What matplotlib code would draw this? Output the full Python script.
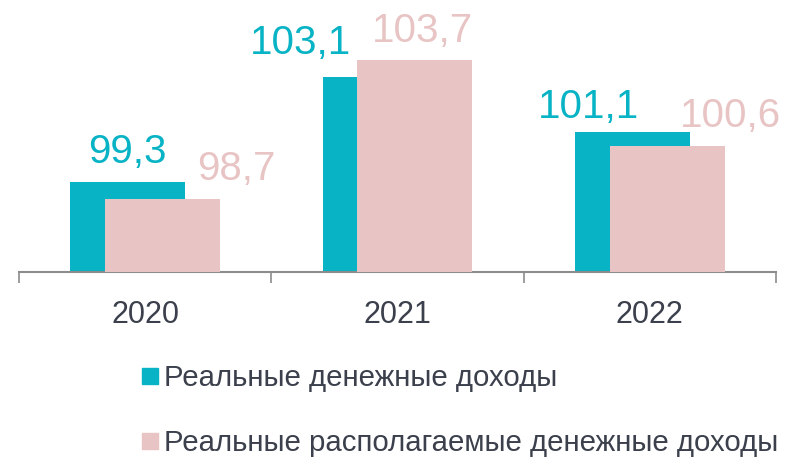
import numpy as np
import matplotlib.pyplot as plt
from matplotlib.lines import Line2D

plt.rcParams['font.family'] = ['Liberation Sans', 'DejaVu Sans']

# данные
years = ["2020", "2021", "2022"]
real_income = [99.3, 103.1, 101.1]
real_disposable = [98.7, 103.7, 100.6]
series_names = ["Реальные денежные доходы", "Реальные располагаемые денежные доходы"]

teal = "#07B3C4"
pink = "#E8C4C4"
text_gray = "#3B404C"

# смещения подписей (пиксели от центра/верха столбца)
teal_offsets = [(0, 19), (-80, 23), (-44, 14)]
pink_offsets = [(74, 19), (8, 18), (63, 19)]

fig = plt.figure(figsize=(8.08, 4.66), dpi=100)
ax = fig.add_axes([19 / 808, 1 - 272 / 466, 757 / 808, 272 / 466])

x = np.arange(len(years))
w = 0.456
shift = 0.069
b1 = ax.bar(x - shift, real_income, width=w, color=teal, zorder=2)
b2 = ax.bar(x + shift, real_disposable, width=w, color=pink, zorder=3)

for xi, v, off in zip(x - shift, real_income, teal_offsets):
    ax.annotate(f"{v:.1f}".replace(".", ","), (xi, v), xytext=off,
                textcoords="offset pixels", ha="center", va="baseline",
                fontsize=29, color=teal)
for xi, v, off in zip(x + shift, real_disposable, pink_offsets):
    ax.annotate(f"{v:.1f}".replace(".", ","), (xi, v), xytext=off,
                textcoords="offset pixels", ha="center", va="baseline",
                fontsize=29, color=pink)

ax.set_xlim(-0.5, 2.5)
ax.set_ylim(96.07, 105.86)
ax.set_yticks([])
ax.set_xticks(x)
ax.set_xticklabels(years, fontsize=22, color=text_gray)
ax.set_xticks([-0.5, 0.5, 1.5, 2.5], minor=True)
ax.tick_params(axis="x", which="major", length=0, pad=20)
ax.tick_params(axis="x", which="minor", length=8, width=1.2, color="#8C8C8C", direction="out")

for s in ["top", "right", "left"]:
    ax.spines[s].set_visible(False)
ax.spines["bottom"].set_color("#8C8C8C")
ax.spines["bottom"].set_linewidth(1.5)
ax.patch.set_visible(False)

handles = [Line2D([], [], marker="s", linestyle="none", markersize=11, color=teal),
           Line2D([], [], marker="s", linestyle="none", markersize=11, color=pink)]
leg = fig.legend(handles, series_names, loc="upper left",
                 bbox_to_anchor=(138 / 808, 1 - 364 / 466), frameon=False,
                 fontsize=21.2, labelcolor=text_gray, handlelength=0.8,
                 handletextpad=0.08, labelspacing=1.25, borderpad=0, borderaxespad=0)

fig.savefig("out.png", dpi=100)
